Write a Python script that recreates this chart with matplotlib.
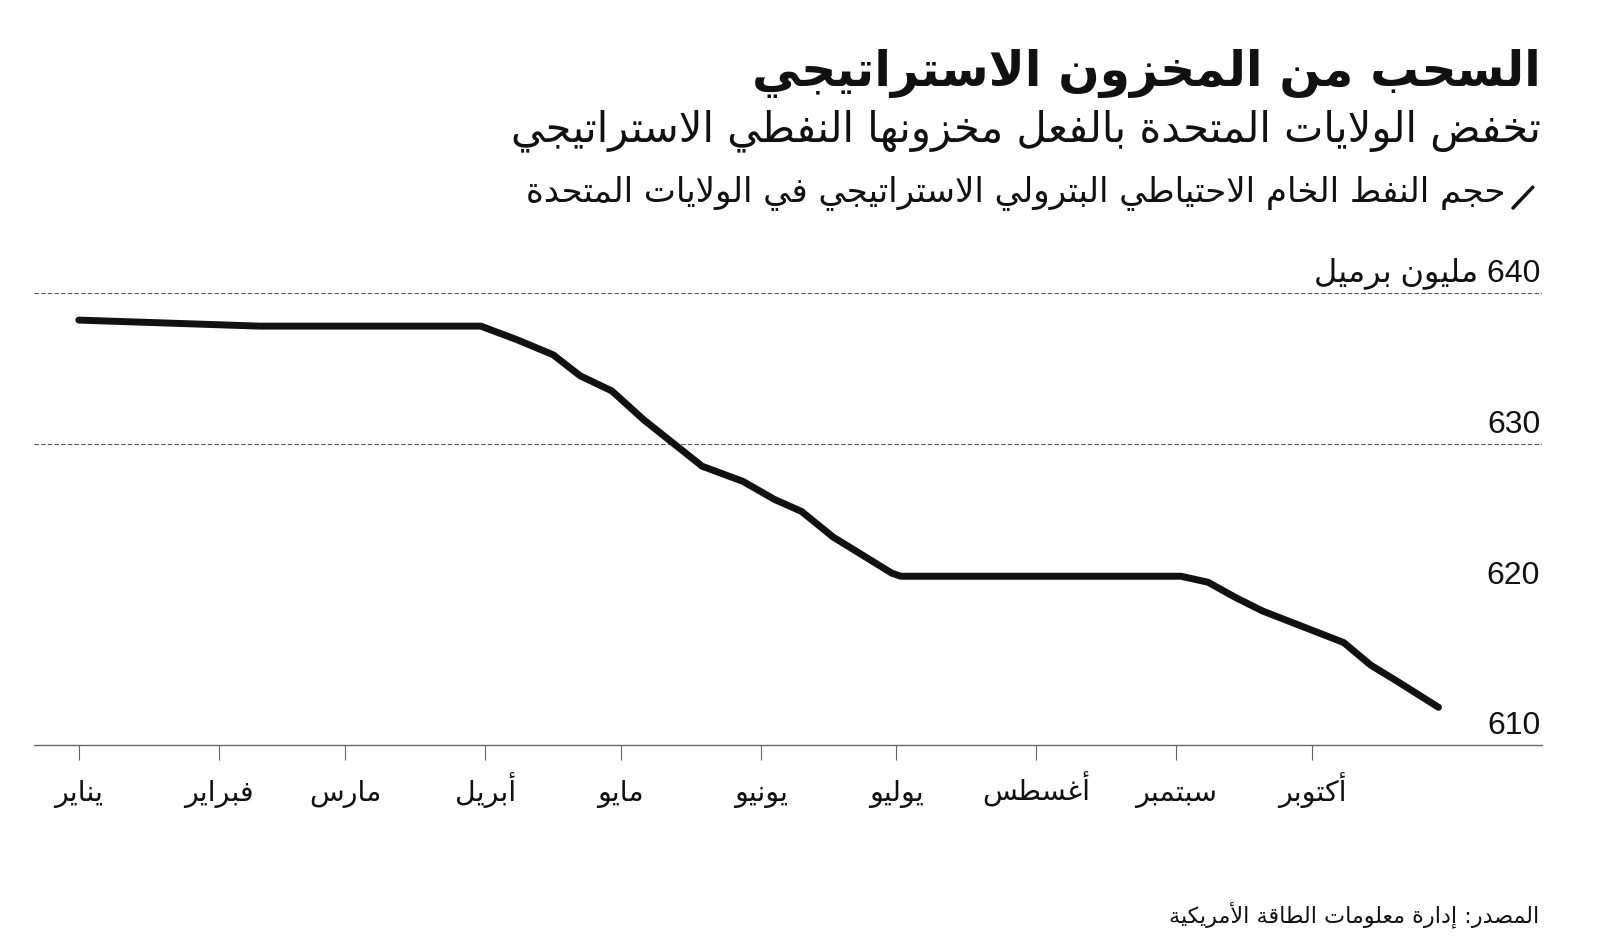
#!/usr/bin/env python3
"""US strategic petroleum reserve drawdown chart (Arabic labels)."""
import re

import matplotlib

matplotlib.use("Agg")
import matplotlib.pyplot as plt
import numpy as np
from matplotlib.lines import Line2D
from matplotlib.transforms import blended_transform_factory

# weekly-ish readings taken off the reference line, million barrels
DATES = ["2021-01-01", "2021-01-21", "2021-02-10", "2021-03-31", "2021-04-08",
         "2021-04-16", "2021-04-22", "2021-04-29", "2021-05-06", "2021-05-19",
         "2021-05-28", "2021-06-04", "2021-06-10", "2021-06-17", "2021-06-30",
         "2021-07-02", "2021-09-02", "2021-09-08", "2021-09-14", "2021-09-20",
         "2021-10-08", "2021-10-14", "2021-10-20", "2021-10-29"]
VOLUME = [638.2, 638.0, 637.8, 637.8, 636.9,
          635.9, 634.5, 633.5, 631.6, 628.5,
          627.5, 626.3, 625.5, 623.8, 621.4,
          621.2, 621.2, 620.8, 619.8, 618.9,
          616.8, 615.3, 614.2, 612.5]

MONTH_TICKS = ["2021-01-01", "2021-02-01", "2021-03-01", "2021-04-01", "2021-05-01",
               "2021-06-01", "2021-07-01", "2021-08-01", "2021-09-01", "2021-10-01"]
MONTHS = ["يناير", "فبراير", "مارس", "أبريل", "مايو",
          "يونيو", "يوليو", "أغسطس", "سبتمبر", "أكتوبر"]
Y_TICKS = [610, 620, 630, 640]
Y_LABELS = ["610", "620", "630", "640 مليون برميل"]
GRID_AT = [630, 640]

TITLE = "السحب من المخزون الاستراتيجي"
SUBTITLE = "تخفض الولايات المتحدة بالفعل مخزونها النفطي الاستراتيجي"
SERIES = "حجم النفط الخام الاحتياطي البترولي الاستراتيجي في الولايات المتحدة"
SOURCE = "المصدر: إدارة معلومات الطاقة الأمريكية"

FG = "#111111"
AXIS = "#666666"

# --- minimal Arabic shaping (presentation forms) + RTL ordering -------------
_TABLE = [
    ("\u0621", 0xFE80, 1), ("\u0622", 0xFE81, 2), ("\u0623", 0xFE83, 2),
    ("\u0624", 0xFE85, 2), ("\u0625", 0xFE87, 2), ("\u0626", 0xFE89, 4),
    ("\u0627", 0xFE8D, 2), ("\u0628", 0xFE8F, 4), ("\u0629", 0xFE93, 2),
    ("\u062A", 0xFE95, 4), ("\u062B", 0xFE99, 4), ("\u062C", 0xFE9D, 4),
    ("\u062D", 0xFEA1, 4), ("\u062E", 0xFEA5, 4), ("\u062F", 0xFEA9, 2),
    ("\u0630", 0xFEAB, 2), ("\u0631", 0xFEAD, 2), ("\u0632", 0xFEAF, 2),
    ("\u0633", 0xFEB1, 4), ("\u0634", 0xFEB5, 4), ("\u0635", 0xFEB9, 4),
    ("\u0636", 0xFEBD, 4), ("\u0637", 0xFEC1, 4), ("\u0638", 0xFEC5, 4),
    ("\u0639", 0xFEC9, 4), ("\u063A", 0xFECD, 4), ("\u0641", 0xFED1, 4),
    ("\u0642", 0xFED5, 4), ("\u0643", 0xFED9, 4), ("\u0644", 0xFEDD, 4),
    ("\u0645", 0xFEE1, 4), ("\u0646", 0xFEE5, 4), ("\u0647", 0xFEE9, 4),
    ("\u0648", 0xFEED, 2), ("\u0649", 0xFEEF, 2), ("\u064A", 0xFEF1, 4),
]
FORMS = {c: (start, n) for c, start, n in _TABLE}
LAM_ALEF = {"\u0622": 0xFEF5, "\u0623": 0xFEF7, "\u0625": 0xFEF9, "\u0627": 0xFEFB}


def shape(s):
    out = []
    i = 0
    while i < len(s):
        c = s[i]
        if c not in FORMS:
            out.append(c)
            i += 1
            continue
        prev = s[i - 1] if i > 0 else None
        joins_prev = prev in FORMS and FORMS[prev][1] == 4
        if c == "\u0644" and i + 1 < len(s) and s[i + 1] in LAM_ALEF:
            out.append(chr(LAM_ALEF[s[i + 1]] + (1 if joins_prev else 0)))
            i += 2
            continue
        start, n = FORMS[c]
        nxt = s[i + 1] if i + 1 < len(s) else None
        joins_next = n == 4 and nxt in FORMS and FORMS[nxt][1] >= 2
        if n == 1:
            form = 0
        elif joins_prev and joins_next:
            form = 3
        elif joins_prev:
            form = 1
        elif joins_next:
            form = 2
        else:
            form = 0
        out.append(chr(start + form))
        i += 1
    return "".join(out)


def ar(s):
    rev = shape(s)[::-1]
    return re.sub(r"[0-9]+", lambda m: m.group(0)[::-1], rev)


plt.rcParams["font.family"] = ["DejaVu Sans"]

fig = plt.figure(figsize=(16, 9.5), dpi=100, facecolor="white")
ax = fig.add_axes([0.021, 0.2158, 0.943, 0.4758])

dates = np.array(DATES, dtype="datetime64[D]")
ax.plot(dates, VOLUME, color=FG, linewidth=5, solid_capstyle="round",
        solid_joinstyle="round", zorder=3)

ax.set_ylim(610, 640)
ax.set_xlim(np.datetime64("2020-12-22"), np.datetime64("2021-11-21"))

for v in GRID_AT:
    ax.axhline(v, color="#555555", linewidth=0.8, linestyle=(0, (4, 2)), zorder=1)

for name, s in ax.spines.items():
    s.set_visible(name == "bottom")
ax.spines["bottom"].set_color(AXIS)
ax.spines["bottom"].set_linewidth(1.0)

ax.set_yticks([])
ax.set_xticks(np.array(MONTH_TICKS, dtype="datetime64[D]"))
ax.set_xticklabels([ar(m) for m in MONTHS], fontsize=20.5, color=FG)
ax.tick_params(axis="x", length=11, width=0.8, color=AXIS, pad=29)
for lab in ax.get_xticklabels():
    lab.set_verticalalignment("baseline")

trans = blended_transform_factory(ax.transAxes, ax.transData)
for v, lbl in zip(Y_TICKS, Y_LABELS):
    ax.text(0.9985, v + 0.25, ar(lbl), transform=trans, ha="right", va="bottom",
            fontsize=23, color=FG, family=["Liberation Sans", "DejaVu Sans"])

fig.text(0.963, 0.923, ar(TITLE), ha="right", va="center", fontsize=35,
         fontweight="bold", color=FG)
fig.text(0.963, 0.862, ar(SUBTITLE), ha="right", va="center", fontsize=30, color=FG)
fig.text(0.941, 0.797, ar(SERIES), ha="right", va="center", fontsize=24.5, color=FG)
fig.add_artist(Line2D([0.9456, 0.958], [0.781, 0.803], color=FG, linewidth=2.5,
                      solid_capstyle="round"))
fig.text(0.962, 0.037, ar(SOURCE), ha="right", va="center", fontsize=16, color=FG)

fig.savefig("out.png", dpi=100, facecolor="white")
